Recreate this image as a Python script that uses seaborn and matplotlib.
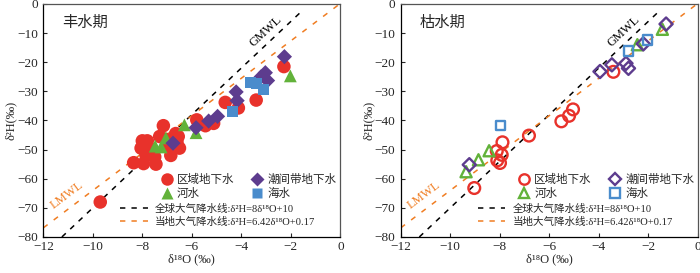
import numpy as np
import pandas as pd
import seaborn as sns
import matplotlib.pyplot as plt
from matplotlib.lines import Line2D

# ---- data ----
# wet season (丰水期)
wet_gw_x = [-9.7, -8.35, -8.0, -7.8, -7.95, -7.85, -7.5, -7.45, -7.6, -7.15, -7.05, -7.0,
            -6.85, -6.55, -6.5, -6.6, -6.65, -5.8, -5.45, -5.12, -4.65, -4.12, -3.4, -2.28,
            -8.05, -7.7, -7.3]
wet_gw_y = [-68.0, -54.5, -47.0, -47.0, -54.8, -52.0, -52.5, -55.0, -50.0, -41.8, -46.5, -48.5,
            -52.0, -45.5, -49.5, -47.5, -44.5, -39.8, -41.8, -41.0, -33.8, -35.7, -33.0, -21.5,
            -49.5, -50.0, -45.5]
wet_river_x = [-7.48, -7.24, -7.05, -6.3, -5.83, -2.02]
wet_river_y = [-48.8, -49.1, -46.0, -41.5, -44.2, -24.7]
wet_tidal_x = [-6.76, -5.83, -5.32, -4.96, -4.21, -4.17, -3.2, -3.03, -2.94, -2.26]
wet_tidal_y = [-47.8, -42.5, -40.2, -38.6, -30.2, -33.2, -25.0, -23.6, -26.3, -18.1]
wet_sea_x = [-4.37, -3.62, -3.4, -3.1]
wet_sea_y = [-36.9, -27.0, -27.2, -29.3]

# dry season (枯水期)
dry_gw_x = [-9.03, -8.12, -8.1, -7.99, -7.89, -7.92, -6.82, -5.51, -5.2, -5.04, -3.41]
dry_gw_y = [-63.2, -50.5, -53.7, -54.6, -47.5, -51.8, -45.2, -40.3, -38.4, -36.2, -23.3]
dry_river_x = [-9.36, -8.86, -8.43, -2.44, -1.43]
dry_river_y = [-57.6, -53.5, -50.4, -14.0, -8.7]
dry_tidal_x = [-9.23, -3.95, -3.47, -2.9, -2.8, -2.2, -1.28]
dry_tidal_y = [-55.2, -23.2, -20.9, -20.4, -22.1, -13.7, -6.9]
dry_sea_x = [-7.96, -2.8, -2.02]
dry_sea_y = [-41.8, -16.1, -12.3]

gmwl_x = [-11.25, -1.5]   # δ2H = 8δ18O + 10
lmwl_x = [-12.0, 0.0]     # δ2H = 6.42δ18O + 0.17

titles = ['丰水期', '枯水期']
type_names = ['区域地下水', '河水', '潮间带地下水', '海水']
gmwl_label = '全球大气降水线:δ²H=8δ¹⁸O+10'
lmwl_label = '当地大气降水线:δ²H=6.42δ¹⁸O+0.17'

colors = {'区域地下水': '#e8322b', '河水': '#62b23a', '潮间带地下水': '#5d3c8e', '海水': '#4a8ccc'}
markers = {'区域地下水': 'o', '河水': '^', '潮间带地下水': 'D', '海水': 's'}
sizes = {'区域地下水': 95, '河水': 85, '潮间带地下水': 60, '海水': 62}
orange = '#f07d22'

sns.set_style('ticks')
serif = ['Liberation Serif', 'DejaVu Serif', 'Noto Sans CJK SC']
cjk = ['Noto Sans CJK SC', 'DejaVu Sans']
plt.rcParams['font.family'] = serif
plt.rcParams['axes.unicode_minus'] = True

fig = plt.figure(figsize=(7.0, 2.73), dpi=100)
ax1 = fig.add_axes([0.0619, 0.132, 0.4243, 0.8535])
ax2 = fig.add_axes([0.5725, 0.132, 0.4243, 0.8535])

panels = [
    (ax1, [(wet_gw_x, wet_gw_y), (wet_river_x, wet_river_y),
           (wet_tidal_x, wet_tidal_y), (wet_sea_x, wet_sea_y)], True),
    (ax2, [(dry_gw_x, dry_gw_y), (dry_river_x, dry_river_y),
           (dry_tidal_x, dry_tidal_y), (dry_sea_x, dry_sea_y)], False),
]

for i, (ax, groups, filled) in enumerate(panels):
    gx = np.array(gmwl_x)
    lx = np.array(lmwl_x)
    sns.lineplot(x=gx, y=8 * gx + 10, ax=ax, color='black', lw=1.1,
                 linestyle=(0, (3.5, 4)), zorder=1)
    sns.lineplot(x=lx, y=6.42 * lx + 0.17, ax=ax, color=orange, lw=1.1,
                 linestyle=(0, (3.5, 5)), zorder=1)

    for name, (xs, ys) in zip(type_names, groups):
        df = pd.DataFrame({'x': xs, 'y': ys})
        c = colors[name]
        if filled:
            sns.scatterplot(data=df, x='x', y='y', ax=ax, marker=markers[name],
                            s=sizes[name], color=c, edgecolor='none', zorder=3)
        else:
            sns.scatterplot(data=df, x='x', y='y', ax=ax, marker=markers[name],
                            s=sizes[name] * 0.75, facecolors='none', edgecolors=c,
                            linewidth=1.7, zorder=3)

    ax.set_xlim(-12, 0)
    ax.set_ylim(-80, 0)
    ax.set_xticks(np.arange(-12, 1, 2))
    ax.set_yticks(np.arange(-80, 1, 10))
    ax.tick_params(direction='in', length=3, width=0.8, labelsize=9.5)
    ax.tick_params(axis='x', pad=3)
    ax.tick_params(axis='y', pad=4)
    for sp in ['left', 'bottom']:
        ax.spines[sp].set_color('black')
    for sp in ['top', 'right']:
        ax.spines[sp].set_color('#555555')
    for sp in ax.spines.values():
        sp.set_linewidth(0.9)
    ax.set_xlabel('δ¹⁸O (‰)', fontsize=9, labelpad=0)
    ax.set_ylabel('δ²H(‰)', fontsize=9, labelpad=0)

    ax.text(-11.25, -6.2, titles[i], family=cjk, fontsize=11, ha='left', va='center')
    ax.text(-3.0, -9.4, 'GMWL', fontsize=9, rotation=43, ha='center', va='center',
            rotation_mode='anchor', color='black')
    ax.text(-11.05, -65.8, 'LMWL', fontsize=9, rotation=37, ha='center', va='center',
            rotation_mode='anchor', color=orange)

    # markers legend
    mh = []
    for name in type_names:
        big = name in ('区域地下水', '河水')
        if filled:
            mh.append(Line2D([], [], ls='none', marker=markers[name], ms=9 if big else 7.5,
                             mfc=colors[name], mec='none'))
        else:
            mh.append(Line2D([], [], ls='none', marker=markers[name], ms=7.5 if big else 6.5,
                             mfc='none', mec=colors[name], mew=1.7))
    leg1 = ax.legend(mh, type_names, ncol=2, loc='upper left', bbox_to_anchor=(0.38, 0.295),
                     frameon=False, handlelength=1.0, handletextpad=0.4, columnspacing=1.5,
                     labelspacing=0.1, borderaxespad=0, prop={'family': cjk, 'size': 8.3})
    ax.add_artist(leg1)

    lh = [Line2D([], [], color='black', lw=1.1, ls=(0, (3.5, 4))),
          Line2D([], [], color=orange, lw=1.1, ls=(0, (3.5, 4)))]
    ax.legend(lh, [gmwl_label, lmwl_label], loc='upper left', bbox_to_anchor=(0.245, 0.16),
              frameon=False, handlelength=2.6, handletextpad=0.7, labelspacing=0.3,
              borderaxespad=0, prop={'family': serif, 'size': 7.6})

fig.savefig('out.png', dpi=100)
